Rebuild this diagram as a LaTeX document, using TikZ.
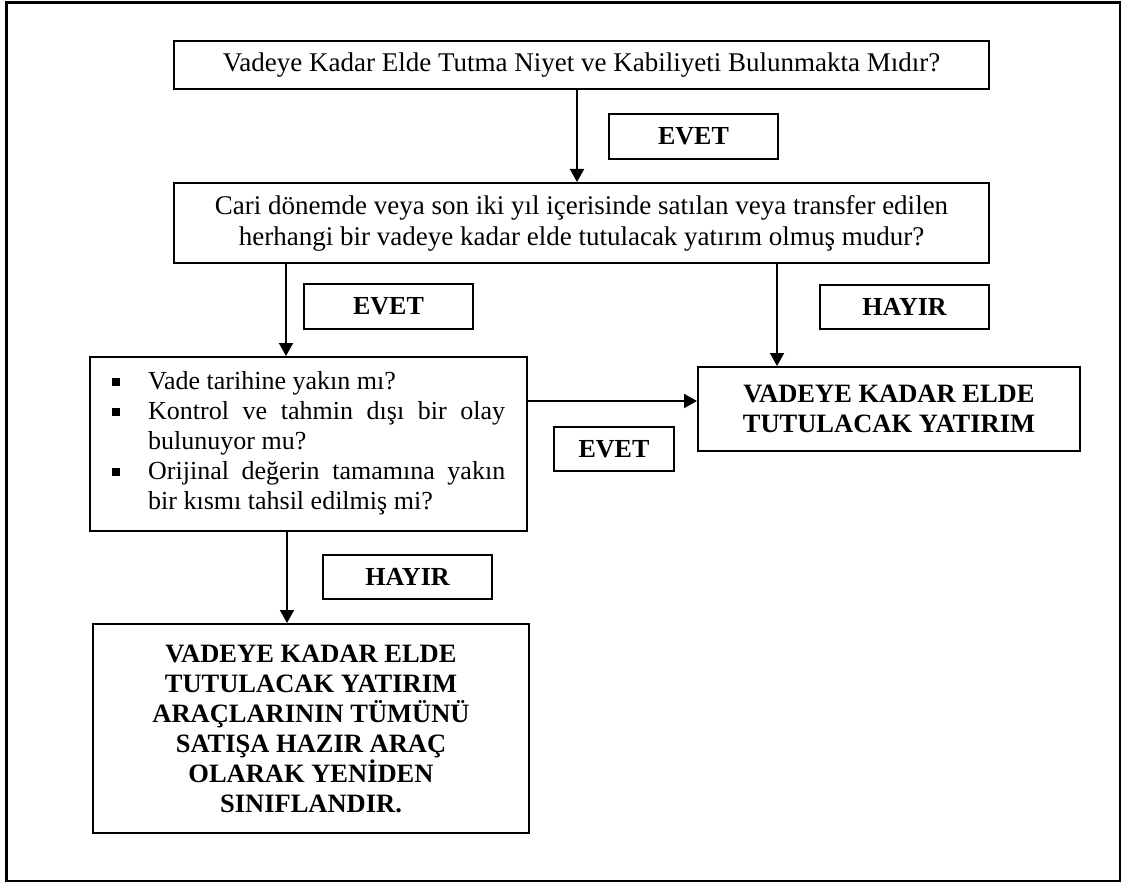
\documentclass[tikz,border=0pt]{standalone}
\usepackage{fontspec}
\setmainfont{Liberation Serif}
\usetikzlibrary{arrows.meta}
% square bullet followed by the indent of the item text
\newcommand{\sqbullet}{\makebox[36pt][l]{\rule[3pt]{8pt}{8pt}}}
\begin{document}
\begin{tikzpicture}[x=1pt,y=-1pt,
  box/.style={draw, line width=2pt, inner sep=0pt, anchor=north west},
  lbl/.style={draw, line width=2pt, inner sep=0pt, anchor=north west,
    minimum width=169, minimum height=44,
    font=\fontsize{26}{30}\selectfont\bfseries},
  arr/.style={line width=2pt, -{Triangle[length=13pt,width=14pt]}},
  txt/.style={font=\fontsize{27}{31}\selectfont, align=center},
  btxt/.style={font=\fontsize{26.5}{30}\selectfont\bfseries, align=center}]
\useasboundingbox (0,0) rectangle (1121,882);

% outer frame
\node[draw, line width=3pt, inner sep=0pt, anchor=north west,
  minimum width=1114, minimum height=878.5] (frame) at (5,1.5) {};

% decision boxes
\node[box, txt, minimum width=815, minimum height=48] (q1) at (173,40)
  {Vadeye Kadar Elde Tutma Niyet ve Kabiliyeti Bulunmakta Mıdır?};
\node[box, txt, minimum width=815, minimum height=80] (q2) at (173,182)
  {Cari dönemde veya son iki yıl içerisinde satılan veya transfer edilen\\
   herhangi bir vadeye kadar elde tutulacak yatırım olmuş mudur?};
\node[box, minimum width=437, minimum height=174] (list) at (89,356) {};
\node[anchor=west, inner sep=0pt, font=\fontsize{26}{30}\selectfont, align=left]
  (items) at (112,443)
  {\sqbullet\makebox[357pt][l]{Vade tarihine yakın mı?}\\
   \sqbullet\makebox[357pt][s]{Kontrol ve tahmin dışı bir olay}\\
   \hspace*{36pt}bulunuyor mu?\\
   \sqbullet\makebox[357pt][s]{Orijinal değerin tamamına yakın}\\
   \hspace*{36pt}bir kısmı tahsil edilmiş mi?};

% outcome boxes
\node[box, btxt, minimum width=382, minimum height=84] (res) at (697,366)
  {VADEYE KADAR ELDE\\TUTULACAK YATIRIM};
\node[box, btxt, minimum width=436, minimum height=209] (final) at (92,623)
  {VADEYE KADAR ELDE\\TUTULACAK YATIRIM\\ARAÇLARININ TÜMÜNÜ\\
   SATIŞA HAZIR ARAÇ\\OLARAK YENİDEN\\SINIFLANDIR.};

% answer labels
\node[lbl, minimum height=45] (e1) at (608,113) {\raisebox{-4pt}{EVET}};
\node[lbl, minimum height=45] (e2) at (303,283) {\raisebox{-4pt}{EVET}};
\node[lbl] (h1) at (819,284) {\raisebox{-2pt}{HAYIR}};
\node[lbl, minimum width=120] (e3) at (553,426) {\raisebox{-4pt}{EVET}};
\node[lbl] (h2) at (322,554) {\raisebox{-3pt}{HAYIR}};

% connectors
\draw[arr] ([xshift=-4.5pt]q1.south) -- ([xshift=-4.5pt]q1.south |- q2.north);
\draw[arr] ([xshift=113pt]q2.south west) -- ([xshift=113pt]q2.south west |- list.north);
\draw[arr] ([xshift=604pt]q2.south west) -- ([xshift=604pt]q2.south west |- res.north);
\draw[arr] ([yshift=43pt]list.east) -- ([yshift=43pt]list.east -| res.west);
\draw[arr] ([xshift=198pt]list.south west) -- ([xshift=198pt]list.south west |- final.north);
\end{tikzpicture}
\end{document}
